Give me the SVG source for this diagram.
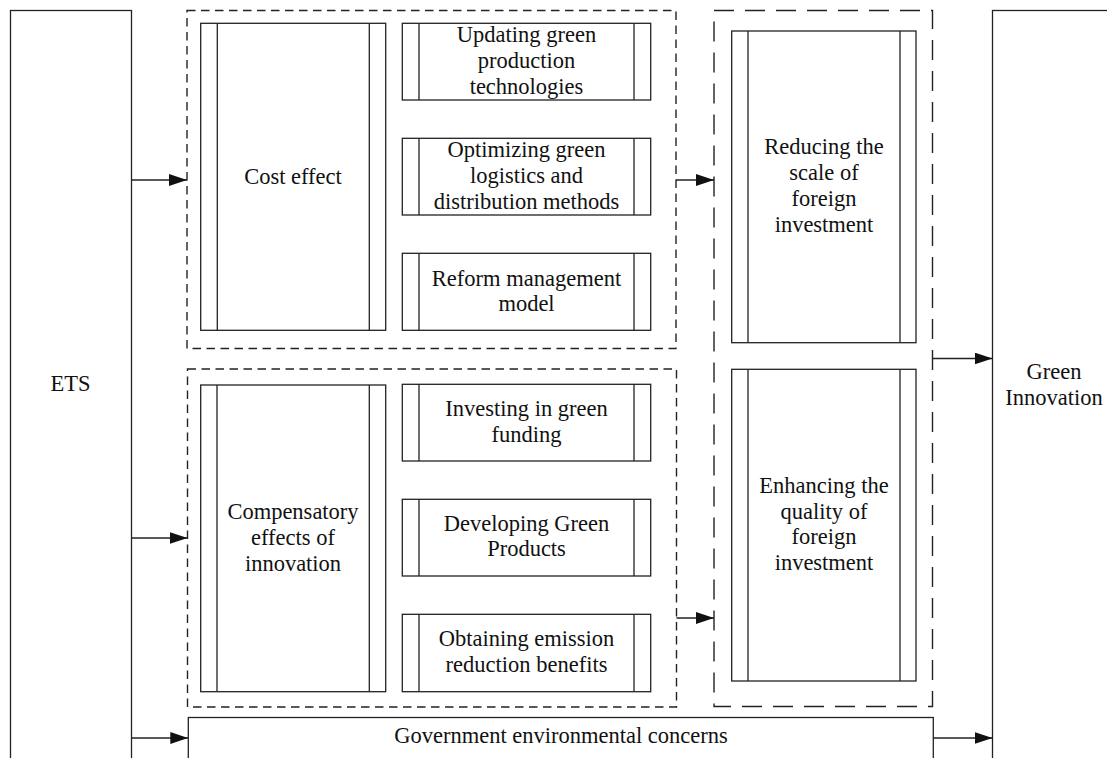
<svg xmlns="http://www.w3.org/2000/svg" width="1107" height="758" viewBox="0 0 1107 758">
<style>
.box{fill:#fff;stroke:#222;stroke-width:1.3}
.ln{stroke:#222;stroke-width:1.3;fill:none}
.d1{fill:none;stroke:#222;stroke-width:1.4;stroke-dasharray:8.5 5.5}
.d2{fill:none;stroke:#222;stroke-width:1.4;stroke-dasharray:20 11}
.t{font-family:"Liberation Serif","Times New Roman",serif;font-size:22.5px;fill:#111;text-anchor:middle}
.c{stroke:#222;stroke-width:1.3;fill:none;marker-end:url(#ah)}
</style>
<defs>
<marker id="ah" markerWidth="18" markerHeight="12" refX="18" refY="6" orient="auto" markerUnits="userSpaceOnUse">
<path d="M0,0 L18,6 L0,12 z" fill="#111"/>
</marker>
</defs>
<rect width="1107" height="758" fill="#fff"/>

<g id="ets">
<rect class="box" x="10.5" y="10.5" width="121" height="770"/>
<text class="t" x="70.5" y="391">ETS</text>
</g>

<g id="green-innovation">
<rect class="box" x="992.5" y="10.5" width="130" height="770"/>
<text class="t" x="1054" y="379">Green</text>
<text class="t" x="1054" y="405">Innovation</text>
</g>

<g id="group-cost">
<rect class="d1" x="187" y="10.5" width="489" height="338"/>
</g>
<g id="group-compensatory">
<rect class="d1" x="187.5" y="369" width="489" height="338"/>
</g>
<g id="group-foreign">
<rect class="d2" x="714" y="10.5" width="218.5" height="696"/>
</g>

<g id="cost-effect">
<rect class="box" x="200.7" y="23.3" width="185" height="307"/>
<path class="ln" d="M217.3,23.3V330.3M369.3,23.3V330.3"/>
<text class="t" x="293" y="184">Cost effect</text>
</g>

<g id="updating">
<rect class="box" x="402.3" y="23.3" width="248.4" height="76.7"/>
<path class="ln" d="M419,23.3V100M634,23.3V100"/>
<text class="t" x="526.5" y="42">Updating green</text>
<text class="t" x="526.5" y="68">production</text>
<text class="t" x="526.5" y="94">technologies</text>
</g>

<g id="optimizing">
<rect class="box" x="402.3" y="138.3" width="248.4" height="76.7"/>
<path class="ln" d="M419,138.3V215M634,138.3V215"/>
<text class="t" x="526.5" y="157">Optimizing green</text>
<text class="t" x="526.5" y="183">logistics and</text>
<text class="t" x="526.5" y="209">distribution methods</text>
</g>

<g id="reform">
<rect class="box" x="402.3" y="253.3" width="248.4" height="77"/>
<path class="ln" d="M419,253.3V330.3M634,253.3V330.3"/>
<text class="t" x="526.5" y="285.5">Reform management</text>
<text class="t" x="526.5" y="311">model</text>
</g>

<g id="compensatory">
<rect class="box" x="200.7" y="385" width="185" height="306.7"/>
<path class="ln" d="M217,385V691.7M369.3,385V691.7"/>
<text class="t" x="293" y="519">Compensatory</text>
<text class="t" x="293" y="545">effects of</text>
<text class="t" x="293" y="571">innovation</text>
</g>

<g id="investing">
<rect class="box" x="402.3" y="384.3" width="248.4" height="76.7"/>
<path class="ln" d="M419,384.3V461M634,384.3V461"/>
<text class="t" x="526.5" y="416">Investing in green</text>
<text class="t" x="526.5" y="442">funding</text>
</g>

<g id="developing">
<rect class="box" x="402.3" y="499.3" width="248.4" height="76.7"/>
<path class="ln" d="M419,499.3V576M634,499.3V576"/>
<text class="t" x="526.5" y="530.5">Developing Green</text>
<text class="t" x="526.5" y="556">Products</text>
</g>

<g id="obtaining">
<rect class="box" x="402.3" y="614.3" width="248.4" height="77.4"/>
<path class="ln" d="M419,614.3V691.7M634,614.3V691.7"/>
<text class="t" x="526.5" y="646">Obtaining emission</text>
<text class="t" x="526.5" y="672">reduction benefits</text>
</g>

<g id="reducing">
<rect class="box" x="731.7" y="31" width="184.3" height="311.7"/>
<path class="ln" d="M748,31V342.7M900,31V342.7"/>
<text class="t" x="824" y="154">Reducing the</text>
<text class="t" x="824" y="180">scale of</text>
<text class="t" x="824" y="206">foreign</text>
<text class="t" x="824" y="232">investment</text>
</g>

<g id="enhancing">
<rect class="box" x="731.7" y="369.3" width="184.3" height="311.7"/>
<path class="ln" d="M748,369.3V681M900,369.3V681"/>
<text class="t" x="824" y="493">Enhancing the</text>
<text class="t" x="824" y="518.5">quality of</text>
<text class="t" x="824" y="544">foreign</text>
<text class="t" x="824" y="570">investment</text>
</g>

<g id="government">
<rect class="box" x="188.3" y="717.5" width="745" height="60"/>
<text class="t" x="561" y="743">Government environmental concerns</text>
</g>

<g id="connectors">
<path class="c" d="M131.5,180H187"/>
<path class="c" d="M131.5,538H187.5"/>
<path class="c" d="M131.5,738H188.3"/>
<path class="c" d="M676,180H714"/>
<path class="c" d="M676.5,618H714"/>
<path class="c" d="M932.5,358.5H992.5"/>
<path class="c" d="M933.3,738H992.5"/>
</g>
</svg>
